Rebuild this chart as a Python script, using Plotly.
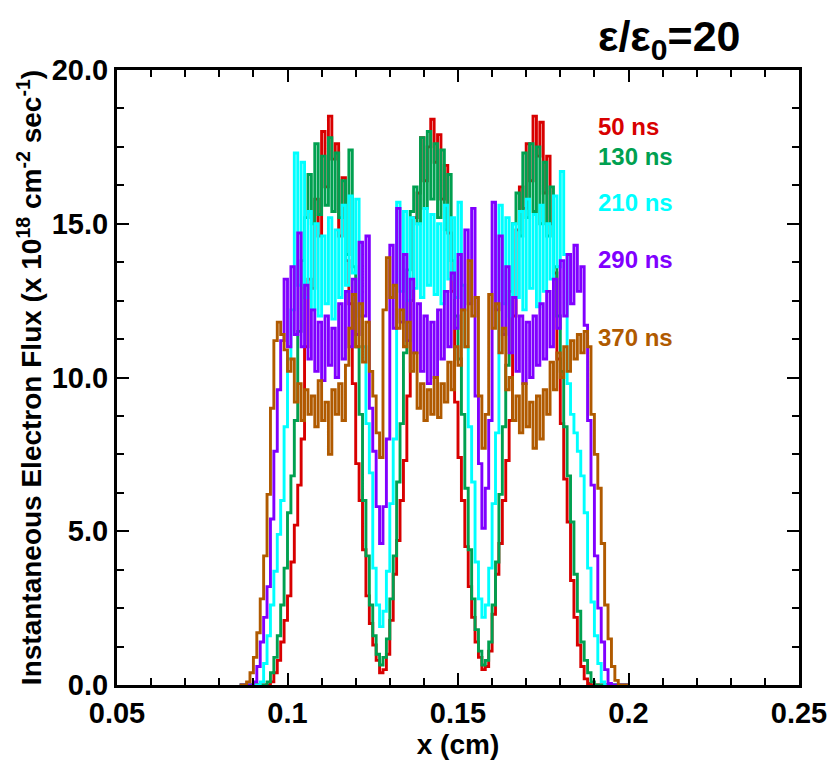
import plotly.graph_objects as go

# x sample positions (cm): 0.086 ... 0.200 every 0.001
X_START = 0.086
X_STEP = 0.001
N_PTS = 115
x_cm = [round(X_START + i * X_STEP, 4) for i in range(N_PTS)]

flux_50ns = [0, 0, 0, 0, 0, 0, 0, 0, 0,
             0.1, 0.4, 0.8, 1.4, 2.1, 2.9, 4.0, 5.2, 6.5, 8.0,
             11.0, 13.2, 12.9, 15.8, 14.6, 18.0, 16.2, 18.5, 17.1, 17.6,
             14.6, 16.5, 13.8, 12.4, 9.8, 7.2, 6.0, 4.4, 2.9, 2.0,
             1.3, 0.8, 0.4, 0.5, 1.0, 2.1, 3.6, 4.7, 6.0, 7.3,
             9.4, 12.5, 15.2, 16.0, 17.8, 16.4, 17.5, 18.4, 17.0, 17.9,
             15.8, 16.9, 14.7, 12.8, 9.2, 7.4, 6.0, 4.5, 3.2, 2.2,
             1.4, 0.9, 0.5, 0.6, 1.1, 2.3, 3.6, 4.6, 6.0, 7.3,
             8.6, 12.0, 14.8, 16.2, 15.5, 17.6, 16.4, 18.5, 17.2, 18.3,
             16.0, 17.2, 15.0, 13.4, 10.6, 8.5, 6.7, 5.3, 3.4, 2.2,
             1.3, 0.6, 0.2, 0.05, 0, 0, 0, 0, 0, 0,
             0, 0, 0, 0, 0, 0]

flux_130ns = [0, 0, 0, 0, 0, 0, 0, 0,
              0.1, 0.4, 0.9, 1.6, 2.6, 3.8, 5.6, 6.8, 8.6, 11.5,
              13.8, 15.2, 16.6, 15.0, 17.6, 15.3, 17.2, 15.6, 17.8, 15.4,
              17.3, 15.2, 16.4, 14.0, 17.4, 13.6, 11.0, 8.8, 6.0, 4.2,
              2.6, 1.6, 1.0, 0.65, 0.9, 1.5, 2.8, 4.2, 6.6, 8.5,
              10.8, 13.5, 15.4, 16.2, 15.0, 17.8, 15.5, 18.0, 15.8, 17.6,
              15.2, 17.4, 14.8, 16.6, 13.8, 12.0, 10.6, 8.8, 6.4, 4.4,
              2.8, 1.8, 1.1, 0.65, 0.8, 1.4, 2.6, 4.0, 6.2, 8.4,
              10.4, 12.8, 15.0, 16.0, 14.6, 17.3, 15.2, 17.6, 15.4, 17.5,
              15.0, 17.0, 14.6, 16.2, 13.6, 12.0, 10.2, 8.4, 6.8, 5.3,
              3.6, 2.4, 1.4, 0.8, 0.4, 0.1, 0, 0, 0, 0,
              0, 0, 0, 0, 0, 0, 0]

flux_210ns = [0, 0, 0, 0, 0, 0,
              0.1, 0.7, 1.6, 2.6, 3.7, 4.9, 6.0, 8.4, 10.6, 12.2,
              17.3, 13.0, 17.0, 12.6, 15.4, 12.2, 15.0, 12.0, 14.6, 12.4,
              15.2, 11.9, 14.8, 12.6, 15.6, 13.0, 15.9, 13.4, 15.8, 12.0,
              11.0, 8.5, 6.9, 3.8, 2.6, 1.9, 2.4, 3.7, 5.9, 8.0,
              15.7, 12.8, 15.4, 12.5, 15.2, 12.9, 15.0, 12.6, 15.5, 13.0,
              15.3, 12.7, 15.0, 12.4, 15.6, 13.2, 15.2, 12.6, 15.7, 13.0,
              11.0, 8.4, 6.6, 4.0, 2.8, 2.2, 2.6, 3.8, 5.9, 8.2,
              15.6, 12.4, 15.2, 12.0, 15.0, 12.6, 15.4, 12.2, 15.8, 12.9,
              15.3, 12.3, 15.6, 12.8, 15.0, 13.2, 15.9, 13.6, 16.7, 14.0,
              9.8, 8.8, 8.2, 7.6, 6.8, 5.6, 3.8, 2.7, 1.6, 0.7,
              0.1, 0, 0, 0, 0, 0, 0, 0, 0]

flux_290ns = [0, 0, 0, 0,
              0.1, 0.6, 1.4, 2.2, 3.2, 5.4, 7.6, 9.6, 11.2, 13.2,
              11.0, 13.6, 11.4, 14.7, 11.0, 13.0, 10.6, 12.2, 10.2, 11.8,
              9.9, 12.0, 10.4, 11.6, 10.0, 12.4, 10.6, 12.8, 11.0, 13.2,
              11.4, 14.4, 12.0, 14.6, 9.0, 7.6, 5.8, 4.6, 5.8, 8.0,
              14.3, 11.6, 15.5, 11.8, 14.0, 11.2, 13.2, 10.8, 12.4, 10.2,
              12.0, 9.8, 11.8, 10.0, 12.2, 10.6, 12.8, 11.0, 13.4, 11.6,
              14.0, 12.2, 14.8, 12.4, 15.5, 9.4, 7.2, 5.1, 6.4, 8.6,
              15.7, 12.2, 14.6, 11.4, 13.6, 10.8, 12.6, 10.2, 12.0, 9.8,
              11.8, 10.0, 12.0, 10.4, 12.4, 10.6, 12.8, 11.0, 13.2, 11.6,
              13.8, 12.0, 14.0, 12.4, 14.3, 12.8, 13.6, 11.7, 8.6, 6.5,
              4.2, 2.5, 1.4, 0.5, 0.05, 0, 0, 0, 0, 0,
              0]

flux_370ns = [0, 0,
              0.1, 0.4, 0.9, 1.7, 2.8, 4.2, 6.2, 9.0, 11.2, 11.8,
              11.4, 10.9, 10.2, 10.6, 9.2, 9.8, 8.6, 9.6, 8.8, 9.4,
              8.4, 9.9, 8.6, 9.2, 7.5, 9.6, 8.8, 9.8, 8.6, 10.4,
              11.6, 12.7, 11.0, 12.4, 10.5, 11.8, 10.2, 9.4, 8.2, 7.4,
              12.2, 13.9, 12.6, 13.0, 11.6, 12.2, 11.0, 11.8, 10.2, 10.8,
              9.0, 9.8, 8.6, 9.6, 8.8, 10.0, 8.7, 9.8, 9.2, 10.5,
              9.6, 11.0, 10.4, 12.2, 11.0, 13.8, 12.0, 12.6, 9.4, 7.7,
              8.8, 12.7, 11.6, 12.4, 10.8, 11.6, 9.6, 10.0, 8.6, 9.4,
              8.2, 9.8, 8.4, 9.2, 7.7, 9.4, 8.0, 9.6, 8.8, 10.5,
              9.6, 10.8, 10.0, 11.0, 10.2, 11.2, 10.6, 11.4, 10.8, 11.5,
              11.0, 8.8, 7.5, 6.4, 4.6, 2.6, 1.5, 0.6, 0.15, 0,
              0, 0, 0]

series_names = ["50 ns", "130 ns", "210 ns", "290 ns", "370 ns"]
series_values = [flux_50ns, flux_130ns, flux_210ns, flux_290ns, flux_370ns]
series_colors = ["#d80000", "#00a050", "#00ffff", "#8000ff", "#b05a00"]
label_y = [18.15, 17.2, 15.7, 13.85, 11.3]
label_x = 0.1905

x_ticks = [0.05, 0.1, 0.15, 0.2, 0.25]
x_tick_text = ["<b>0.05</b>", "<b>0.1</b>", "<b>0.15</b>", "<b>0.2</b>", "<b>0.25</b>"]
y_ticks = [0, 5, 10, 15, 20]
y_tick_text = ["<b>0.0</b>", "<b>5.0</b>", "<b>10.0</b>", "<b>15.0</b>", "<b>20.0</b>"]

FONT = "Liberation Sans, Arial, sans-serif"

fig = go.Figure()
for name, vals, col in zip(series_names, series_values, series_colors):
    fig.add_trace(go.Scatter(x=x_cm, y=vals, mode="lines", name=name,
                             line=dict(color=col, width=2.9, shape="hv"),
                             showlegend=False))

for name, col, ly in zip(series_names, series_colors, label_y):
    fig.add_annotation(x=label_x, y=ly, xref="x", yref="y", text="<b>" + name + "</b>",
                       showarrow=False, xanchor="left", yanchor="middle",
                       font=dict(family=FONT, size=24, color=col))

fig.add_annotation(x=0.81, y=1.05, xref="paper", yref="paper",
                   text="<b>ε/ε<sub>0</sub>=20</b>", showarrow=False,
                   xanchor="center", yanchor="middle",
                   font=dict(family=FONT, size=43, color="black"))

axis_common = dict(showline=True, linecolor="black", linewidth=3,
                   mirror="allticks", ticks="inside", ticklen=12,
                   tickwidth=2, tickcolor="black", showgrid=False,
                   zeroline=False,
                   tickfont=dict(family=FONT, size=29, color="black"))

fig.update_xaxes(range=[0.05, 0.25], tickvals=x_ticks, ticktext=x_tick_text,
                 minor=dict(dtick=0.01, tick0=0.05, ticks="inside", ticklen=7,
                            tickwidth=1.5, tickcolor="black", showgrid=False),
                 title=dict(text="<b>x (cm)</b>", standoff=0,
                            font=dict(family=FONT, size=28, color="black")),
                 **axis_common)
fig.update_yaxes(range=[0, 20], tickvals=y_ticks, ticktext=y_tick_text,
                 minor=dict(dtick=1.25, tick0=0, ticks="inside", ticklen=7,
                            tickwidth=1.5, tickcolor="black", showgrid=False),
                 title=dict(text="<b>Instantaneous Electron Flux (x 10<sup>18</sup> cm<sup>-2</sup> sec<sup>-1</sup>)</b>",
                            standoff=2,
                            font=dict(family=FONT, size=28, color="black")),
                 **axis_common)

fig.update_layout(width=839, height=760, plot_bgcolor="white",
                  paper_bgcolor="white",
                  margin=dict(l=117, r=31, t=70, b=63),
                  font=dict(family=FONT, color="black"))

fig.write_html("out.html")
